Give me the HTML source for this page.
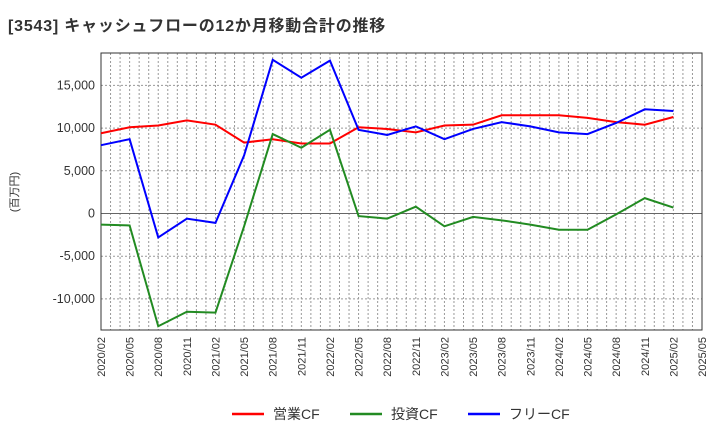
<!DOCTYPE html>
<html><head><meta charset="utf-8"><style>
body{margin:0;background:#fff;width:720px;height:440px;overflow:hidden;font-family:"Liberation Sans","Noto Sans CJK JP",sans-serif}
</style></head><body>
<svg id="c" width="720" height="440" xmlns="http://www.w3.org/2000/svg">
<text x="8" y="31" font-size="16" letter-spacing="0.8" font-weight="bold" fill="#333" font-family="Liberation Sans, Noto Sans CJK JP, sans-serif">[3543]  キャッシュフローの12か月移動合計の推移</text>
<text transform="translate(18,192) rotate(-90)" text-anchor="middle" font-size="11" fill="#333" font-family="Liberation Sans, Noto Sans CJK JP, sans-serif">(百万円)</text>
<g id="grid"></g><g id="axes"></g><g id="series"></g>
<g font-size="14" fill="#333" font-family="Liberation Sans, Noto Sans CJK JP, sans-serif">
<line x1="232" y1="414" x2="264" y2="414" stroke="#ff0000" stroke-width="2.5"/><text x="273" y="419">営業CF</text>
<line x1="350" y1="414" x2="382" y2="414" stroke="#228b22" stroke-width="2.5"/><text x="391" y="419">投資CF</text>
<line x1="468" y1="414" x2="500" y2="414" stroke="#0000ff" stroke-width="2.5"/><text x="509" y="419">フリーCF</text>
</g>
</svg>
<script>
const xLabels=["2020/02","2020/05","2020/08","2020/11","2021/02","2021/05","2021/08","2021/11","2022/02","2022/05","2022/08","2022/11","2023/02","2023/05","2023/08","2023/11","2024/02","2024/05","2024/08","2024/11","2025/02","2025/05"];
const yTicks=[-10000,-5000,0,5000,10000,15000];
const operatingCF=[9400,10100,10300,10900,10400,8300,8700,8200,8200,10100,9900,9500,10300,10400,11500,11500,11500,11200,10700,10400,11300];
const investingCF=[-1300,-1400,-13200,-11500,-11600,-1500,9300,7700,9800,-300,-600,800,-1500,-400,-800,-1300,-1900,-1900,-100,1800,700];
const freeCF=[8000,8700,-2800,-600,-1100,6800,18000,15900,17900,9800,9200,10200,8700,9900,10700,10200,9500,9300,10600,12200,12000];
const L=101,R=702,T=53,B=330;
const NS="http://www.w3.org/2000/svg";
const xq=i=>L+(R-L)*i/(xLabels.length-1);
const y=v=>213.5-v*(42.7/5000);
function mk(tag,attrs,parent){const e=document.createElementNS(NS,tag);for(const k in attrs)e.setAttribute(k,attrs[k]);parent.appendChild(e);return e;}
const grid=document.getElementById('grid'),axes=document.getElementById('axes'),ser=document.getElementById('series');
const bg=mk('rect',{x:L,y:T,width:R-L,height:B-T,fill:'#fff'},grid);


const months=(xLabels.length-1)*3;
for(let m=1;m<months;m++){const x=L+(R-L)*m/months;
const g=mk('line',{x1:x,x2:x,y1:T,y2:B,stroke:'#999','stroke-width':1,'stroke-dasharray':'2,2'},grid);

}
yTicks.forEach(v=>{const yy=y(v);
const g=mk('line',{x1:L,x2:R,y1:yy,y2:yy,stroke:v===0?'#666':'#999','stroke-width':1,'stroke-dasharray':v===0?'':'2,2'},grid);


const t=mk('text',{x:L-6,y:yy+4,'text-anchor':'end','font-size':12.5,fill:'#333'},axes);t.textContent=v.toLocaleString('en-US');

});
xLabels.forEach((s,i)=>{const x=xq(i);
const t=mk('text',{transform:`translate(${x+4},337) rotate(-90)`,'text-anchor':'end','font-size':11,fill:'#333'},axes);t.textContent=s;

});
const fr=mk('rect',{x:L,y:T,width:R-L,height:B-T,fill:'none',stroke:'#333','stroke-width':1},axes);


[[operatingCF,'#ff0000','operating-cf-line'],[investingCF,'#228b22','investing-cf-line'],[freeCF,'#0000ff','free-cf-line']].forEach(([d,c,n])=>{
const p=mk('polyline',{points:d.map((v,i)=>xq(i)+','+y(v)).join(' '),fill:'none',stroke:c,'stroke-width':2},ser);

});
</script>
</body></html>
